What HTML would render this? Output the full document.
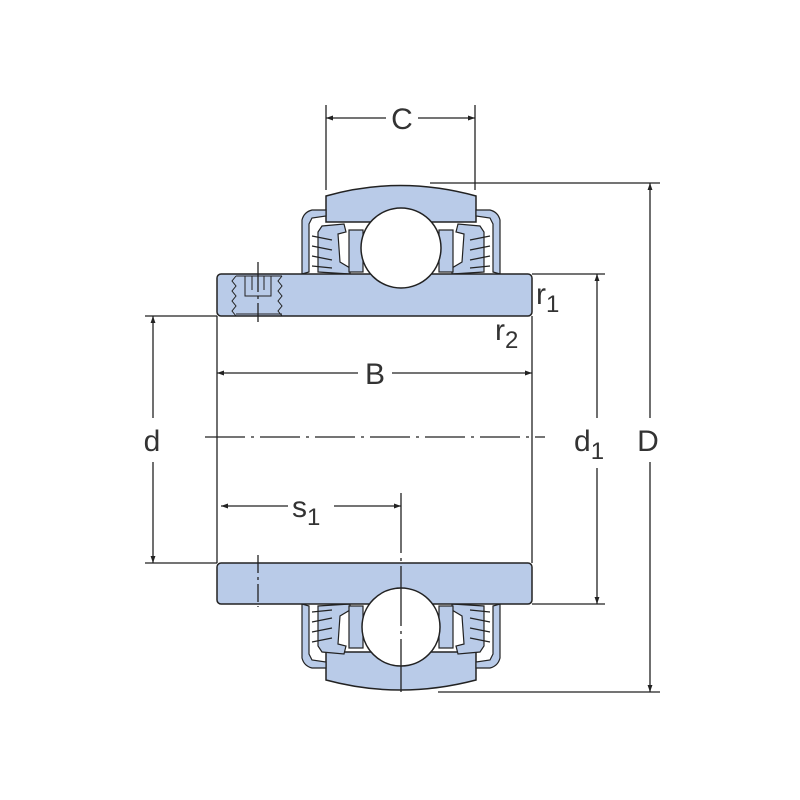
<!DOCTYPE html>
<html><head><style>html,body{margin:0;padding:0;background:#fff}svg{display:block}</style></head><body>
<svg width="800" height="800" viewBox="0 0 800 800" xmlns="http://www.w3.org/2000/svg" font-family="Liberation Sans, sans-serif">
<defs>
<marker id="a" viewBox="0 0 10 10" refX="10" refY="5" markerWidth="13" markerHeight="7" orient="auto-start-reverse" markerUnits="userSpaceOnUse"><path d="M0,1.5 L10,5 L0,8.5 z" fill="#222"/></marker>
<g id="seal">
<path d="M302,274 L302,220 Q304,212 312,210 L326,210 L326,216 L312,218 L309,224 L309,272 Z" fill="#b9cbe8" stroke="#222" stroke-width="1.2"/>
<path d="M318,272 L318,232 L322,226 L344,224 L346,232 L338,234 L340,262 L350,268 L350,274 Z" fill="#b9cbe8" stroke="#222" stroke-width="1.2"/>
<path d="M312,236 L332,240 M312,246 L332,250 M312,256 L332,260 M312,266 L332,268" stroke="#222" stroke-width="1.2" fill="none"/>
<rect x="349" y="230" width="14" height="42" fill="#b9cbe8" stroke="#222" stroke-width="1.2"/>
</g>
</defs>
<path d="M326,196 Q400,175 476,196 L476,222 L326,222 Z" fill="#b9cbe8" stroke="#222" stroke-width="1.5"/>
<path d="M326,652 L476,652 L476,680 Q400,700 326,680 Z" fill="#b9cbe8" stroke="#222" stroke-width="1.5"/>
<use href="#seal"/>
<use href="#seal" transform="translate(802,0) scale(-1,1)"/>
<use href="#seal" transform="translate(0,878) scale(1,-1)"/>
<use href="#seal" transform="translate(802,878) scale(-1,-1)"/>
<rect x="217" y="274" width="315" height="42" rx="4" fill="#b9cbe8" stroke="#222" stroke-width="1.5"/>
<rect x="217" y="563" width="315" height="41" rx="4" fill="#b9cbe8" stroke="#222" stroke-width="1.5"/>
<path d="M236,276 l-4,5 4,5 -4,5 4,5 -4,5 4,5 -4,5 4,5 M282,276 l-4,5 4,5 -4,5 4,5 -4,5 4,5 -4,5 4,5" stroke="#222" fill="none" stroke-width="1"/>
<path d="M236,276 L282,276 M236,314 L282,314 M245,276 v20 h26 v-20 M252,276v14 M264,276v14" stroke="#222" fill="none" stroke-width="1"/>
<circle cx="401" cy="248" r="40" fill="#fff" stroke="#222" stroke-width="1.5"/>
<circle cx="401" cy="627" r="39" fill="#fff" stroke="#222" stroke-width="1.5"/>
<g stroke="#222" stroke-width="1.3" fill="none">
<line x1="217" y1="316" x2="217" y2="563"/>
<line x1="532" y1="316" x2="532" y2="563"/>
<line x1="205" y1="437" x2="545" y2="437" stroke-dasharray="40,6,3,6"/>
<line x1="401" y1="493" x2="401" y2="692" stroke-dasharray="60,5,3,5"/>
<line x1="258" y1="262" x2="258" y2="322" stroke-dasharray="30,4,3,4"/>
<line x1="258" y1="555" x2="258" y2="607" stroke-dasharray="18,4,3,4"/>
<line x1="326" y1="105" x2="326" y2="190"/>
<line x1="475" y1="105" x2="475" y2="190"/>
<line x1="326" y1="118" x2="386" y2="118" marker-start="url(#a)"/>
<line x1="418" y1="118" x2="475" y2="118" marker-end="url(#a)"/>
<line x1="430" y1="183" x2="660" y2="183"/>
<line x1="438" y1="692" x2="660" y2="692"/>
<line x1="650" y1="183" x2="650" y2="418" marker-start="url(#a)"/>
<line x1="650" y1="462" x2="650" y2="692" marker-end="url(#a)"/>
<line x1="532" y1="274" x2="605" y2="274"/>
<line x1="532" y1="604" x2="605" y2="604"/>
<line x1="597" y1="274" x2="597" y2="418" marker-start="url(#a)"/>
<line x1="597" y1="468" x2="597" y2="604" marker-end="url(#a)"/>
<line x1="145" y1="316" x2="217" y2="316"/>
<line x1="145" y1="563" x2="217" y2="563"/>
<line x1="153" y1="316" x2="153" y2="418" marker-start="url(#a)"/>
<line x1="153" y1="462" x2="153" y2="563" marker-end="url(#a)"/>
<line x1="217" y1="373" x2="358" y2="373" marker-start="url(#a)"/>
<line x1="392" y1="373" x2="532" y2="373" marker-end="url(#a)"/>
<line x1="221" y1="506" x2="288" y2="506" marker-start="url(#a)"/>
<line x1="334" y1="506" x2="401" y2="506" marker-end="url(#a)"/>
</g>
<g fill="#333" font-size="30">
<text x="402" y="129" text-anchor="middle">C</text>
<text x="648" y="451" text-anchor="middle">D</text>
<text x="152" y="451" text-anchor="middle">d</text>
<text x="375" y="384" text-anchor="middle">B</text>
<text x="574" y="451">d<tspan font-size="24" dy="8">1</tspan></text>
<text x="292" y="517">s<tspan font-size="24" dy="8">1</tspan></text>
<text x="536" y="304">r<tspan font-size="24" dy="8">1</tspan></text>
<text x="495" y="340">r<tspan font-size="24" dy="8">2</tspan></text>
</g>
</svg>
</body></html>
